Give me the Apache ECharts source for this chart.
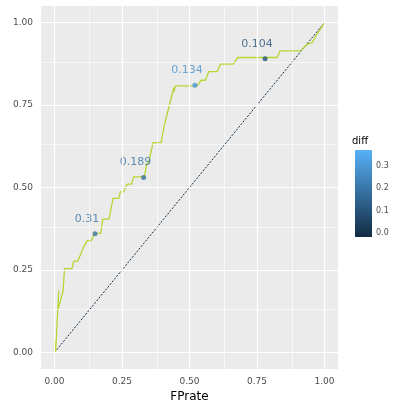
<!DOCTYPE html>
<html><head><meta charset="utf-8">
<script src="https://cdn.jsdelivr.net/npm/echarts@6/dist/echarts.min.js"></script>
<style>html,body{margin:0;padding:0;background:#fff}#c{width:400px;height:400px}</style>
</head><body><div id="c"></div>
<script>
const fpr = [0,0,0.004,0.004,0.012,0.016,0.012,0.032,0.037,0.065,0.071,0.086,0.098,0.106,0.121,0.136,0.149,0.171,0.179,0.202,0.217,0.238,0.244,0.256,0.269,0.285,0.293,0.333,0.341,0.349,0.365,0.395,0.405,0.417,0.442,0.442,0.448,0.528,0.543,0.559,0.571,0.602,0.615,0.662,0.679,0.825,0.835,0.911,0.936,0.954,0.972,0.985,1.0];
const tpr = [0,0.04,0.04,0.0,0.127,0.188,0.127,0.188,0.254,0.254,0.277,0.277,0.299,0.317,0.339,0.339,0.361,0.361,0.404,0.404,0.467,0.467,0.487,0.487,0.51,0.51,0.532,0.532,0.571,0.576,0.636,0.636,0.682,0.722,0.803,0.79,0.808,0.808,0.825,0.825,0.851,0.851,0.874,0.874,0.894,0.894,0.914,0.914,0.934,0.939,0.965,0.98,1.0];
const ptFpr = [0.15,0.33,0.52,0.78];
const ptTpr = [0.36,0.53,0.81,0.89];
const ptLabel = ['0.31','0.189','0.134','0.104'];
const majorTicks = [0,0.25,0.5,0.75,1];
const minorTicks = [0.125,0.375,0.625,0.875];
const legendTicks = ['0.3','0.2','0.1','0.0'];
const diffMax = 0.376;

const curve = fpr.map((x,i)=>[x,tpr[i],Math.max(0,tpr[i]-x)]);
const pts = ptFpr.map((x,i)=>[x,ptTpr[i],ptTpr[i]-x,ptLabel[i]]);
const fmt = v => v.toFixed(2);
const axisBase = (name, extra) => Object.assign({
  type:'value', min:-0.05, max:1.05, name, nameLocation:'middle',
  nameTextStyle:{color:'#000',fontSize:12,fontFamily:'DejaVu Sans'},
  axisLine:{show:false}, splitLine:{show:false},
  axisTick:{show:true,customValues:majorTicks,length:3,lineStyle:{color:'#333'}},
  axisLabel:{customValues:majorTicks,formatter:fmt,color:'#4d4d4d',fontSize:9,fontFamily:'DejaVu Sans'}
}, extra);
const gl = (vals,w,axis) => vals.map(v=>({[axis]:v,lineStyle:{color:'#fff',width:w,type:'solid'}}));

const chart = echarts.init(document.getElementById('c'),null,{renderer:'canvas'});
chart.setOption({
  animation:false,
  grid:{left:41,top:6,width:297,height:363,backgroundColor:'#EBEBEB',show:true,borderWidth:0,containLabel:false,outerBoundsMode:'none'},
  xAxis: axisBase('FPrate',{nameGap:16}),
  yAxis: axisBase('TPrate',{nameGap:30}),
  visualMap:{show:false,type:'continuous',min:0,max:diffMax,dimension:2,seriesIndex:[1,2],
    inRange:{color:['#132B43','#56B1F7']}},
  graphic:[
    {type:'text',left:352,top:136,style:{text:'diff',fontSize:10,fill:'#000',fontFamily:'DejaVu Sans'}},
    {type:'rect',left:355,top:150,shape:{width:17,height:87},
     style:{fill:new echarts.graphic.LinearGradient(0,0,0,1,[{offset:0,color:'#56B1F7'},{offset:1,color:'#132B43'}])}},
    ...legendTicks.map((t,i)=>({type:'text',left:376,top:162+i*22.3,style:{text:t,fontSize:8,fill:'#4d4d4d',fontFamily:'DejaVu Sans'}}))
  ],
  series:[
    {type:'line',data:[],z:1,markLine:{silent:true,symbol:'none',label:{show:false},
      data:[...gl(minorTicks,0.6,'xAxis'),...gl(minorTicks,0.6,'yAxis'),...gl(majorTicks,1.2,'xAxis'),...gl(majorTicks,1.2,'yAxis')]}},
    {type:'line',data:curve,dimensions:['x','y','d'],encode:{x:0,y:1},showSymbol:false,z:3,lineStyle:{width:1.3}},
    {type:'scatter',data:pts,dimensions:['x','y','d','lab'],encode:{x:0,y:1},symbolSize:5,z:4,
      label:{show:true,position:'top',distance:7,fontSize:11,color:'inherit',fontFamily:'DejaVu Sans',offset:[-8,0],formatter:p=>p.data[3]}},
    {type:'line',data:[[0,0],[1,1]],showSymbol:false,z:2,lineStyle:{type:[2,1.5],width:1,color:'#132B43'}}
  ]
});
</script></body></html>
